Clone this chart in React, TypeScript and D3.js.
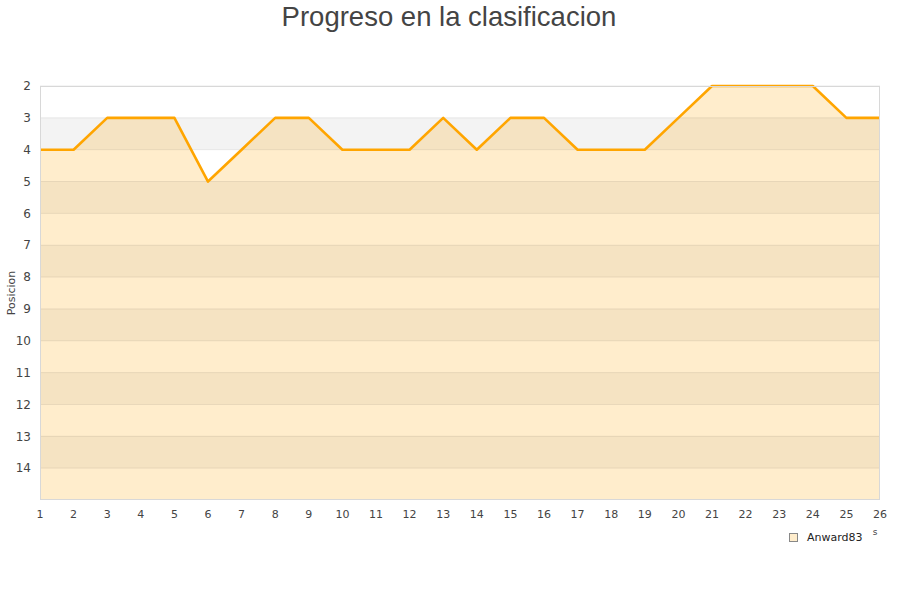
import * as d3 from "d3";
import React from "react";

const jornadas = [1, 2, 3, 4, 5, 6, 7, 8, 9, 10, 11, 12, 13, 14, 15, 16, 17, 18, 19, 20, 21, 22, 23, 24, 25, 26];
const posicion = [4, 4, 3, 3, 3, 5, 4, 3, 3, 4, 4, 4, 3, 4, 3, 3, 4, 4, 4, 3, 2, 2, 2, 2, 3, 3];
const yTicks = [2, 3, 4, 5, 6, 7, 8, 9, 10, 11, 12, 13, 14];
const seriesName = "Anward83";

const W = 900;
const H = 600;
const margin = { left: 40, right: 20, top: 86, bottom: 100 };

export default function App() {
  const x = d3.scaleLinear().domain([1, 26]).range([margin.left, W - margin.right]);
  const y = d3.scaleLinear().domain([2, 15]).range([margin.top, H - margin.bottom]);

  const line = d3
    .line<number>()
    .x((d, i) => x(jornadas[i]))
    .y(d => y(d));
  const area = d3
    .area<number>()
    .x((d, i) => x(jornadas[i]))
    .y0(y(15))
    .y1(d => y(d));

  const bands = d3.range(2, 15);

  return (
    <svg width={W} height={H} style={{ position: "absolute", left: 0, top: 0 }}>
      <text x={449} y={26} textAnchor="middle" fontFamily="Liberation Sans, Arial, sans-serif" fontSize={27.5} fill="#444">
        Progreso en la clasificacion
      </text>

      {/* alternating bands */}
      {bands.map(b => (
        <rect
          key={b}
          x={x(1)}
          y={y(b)}
          width={x(26) - x(1)}
          height={y(b + 1) - y(b)}
          fill={b % 2 === 1 ? "#f3f3f3" : "#ffffff"}
        />
      ))}

      <path d={area(posicion) || ""} fill="rgba(255,165,0,0.2)" />

      {yTicks.map(t => (
        <line key={t} x1={x(1)} x2={x(26)} y1={y(t)} y2={y(t)} stroke="rgba(0,0,0,0.08)" strokeWidth={1} />
      ))}

      <path d={line(posicion) || ""} fill="none" stroke="#ffa500" strokeWidth={2.6} strokeLinejoin="round" />

      <rect
        x={x(1) + 0.5}
        y={y(2) + 0.5}
        width={x(26) - x(1) - 1}
        height={y(15) - y(2) - 1}
        fill="none"
        stroke="#d8d8d8"
      />

      {yTicks.map(t => (
        <text key={t} x={31} y={y(t)} dy="0.35em" textAnchor="end" fontFamily="DejaVu Sans, sans-serif" fontSize={12} fill="#444">
          {t}
        </text>
      ))}

      {jornadas.map(j => (
        <text key={j} x={x(j)} y={518} textAnchor="middle" fontFamily="DejaVu Sans, sans-serif" fontSize={11} fill="#444">
          {j}
        </text>
      ))}

      <text
        transform={`translate(15,${(y(2) + y(15)) / 2}) rotate(-90)`}
        textAnchor="middle"
        fontFamily="DejaVu Sans, sans-serif"
        fontSize={11}
        fill="#444"
      >
        Posicion
      </text>

      <text x={875} y={535} textAnchor="middle" fontFamily="DejaVu Sans, sans-serif" fontSize={9} fill="#444">
        s
      </text>

      <rect x={789.5} y={533.5} width={8} height={8} fill="#ffedcc" stroke="#888" />
      <text x={807} y={541} fontFamily="DejaVu Sans, sans-serif" fontSize={11} fill="#222">
        {seriesName}
      </text>
    </svg>
  );
}
